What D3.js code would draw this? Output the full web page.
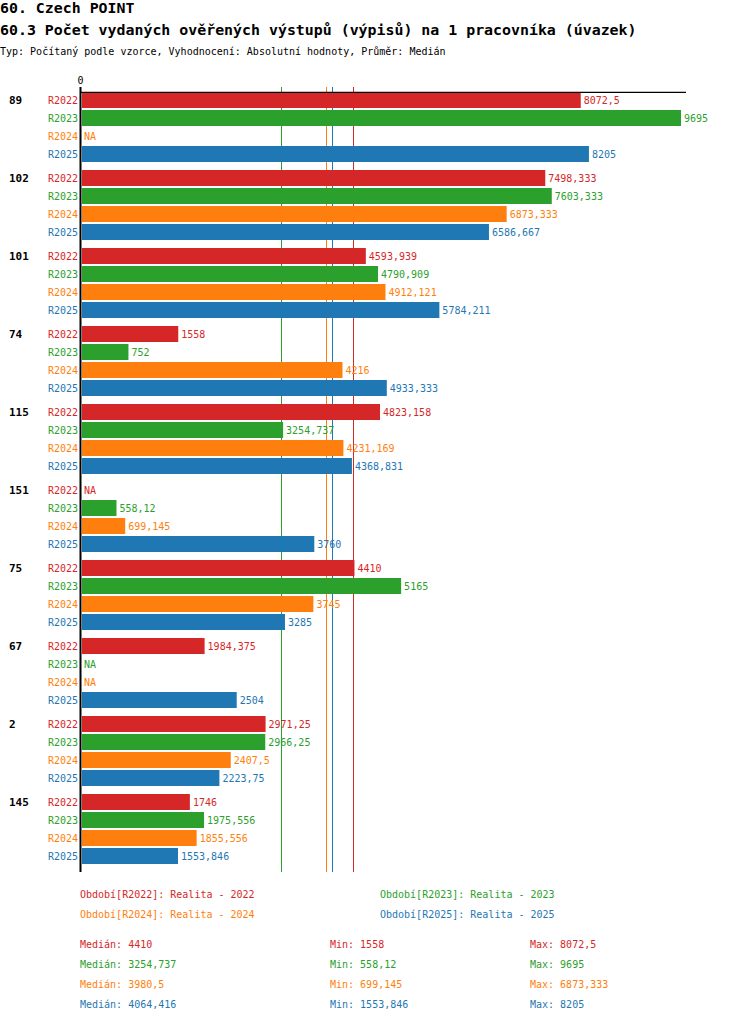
<!DOCTYPE html>
<html><head><meta charset="utf-8">
<script src="https://cdn.jsdelivr.net/npm/d3@7"></script>
<style>
html,body{margin:0;padding:0;background:#fff;}
svg{display:block;font-family:"DejaVu Sans Mono",monospace;}
</style></head>
<body>
<script>
const titleText = "60. Czech POINT";
const subtitleText = "60.3 Počet vydaných ověřených výstupů (výpisů) na 1 pracovníka (úvazek)";
const infoText = "Typ: Počítaný podle vzorce, Vyhodnocení: Absolutní hodnoty, Průměr: Medián";
const groups = ["89","102","101","74","115","151","75","67","2","145"];
const periods = ["R2022","R2023","R2024","R2025"];
const periodNames = ["Realita - 2022","Realita - 2023","Realita - 2024","Realita - 2025"];
const colors = ["#d62728","#2ca02c","#ff7f0e","#1f77b4"];
const r2022 = [8072.5, 7498.333, 4593.939, 1558, 4823.158, null, 4410, 1984.375, 2971.25, 1746];
const r2023 = [9695, 7603.333, 4790.909, 752, 3254.737, 558.12, 5165, null, 2966.25, 1975.556];
const r2024 = [null, 6873.333, 4912.121, 4216, 4231.169, 699.145, 3745, null, 2407.5, 1855.556];
const r2025 = [8205, 6586.667, 5784.211, 4933.333, 4368.831, 3760, 3285, 2504, 2223.75, 1553.846];
const series = [r2022, r2023, r2024, r2025];

const W = 750, H = 1022;
const svg = d3.select("body").append("svg").attr("width", W).attr("height", H);

const fmt = v => (Math.round(v * 1000) / 1000).toString().replace(".", ",");

svg.append("text").attr("x", 0).attr("y", 13).attr("font-size", 14.9).attr("font-weight", "bold").text(titleText);
svg.append("text").attr("x", 0).attr("y", 35).attr("font-size", 14.9).attr("font-weight", "bold").text(subtitleText);
svg.append("text").attr("x", 0).attr("y", 55).attr("font-size", 10).text(infoText);

const allVals = series.flat().filter(v => v != null);
const x = d3.scaleLinear().domain([0, d3.max(allVals)]).range([82, 681]);
const y = d3.scaleBand().domain(groups).range([92, 92 + 78 * groups.length]);
const yi = d3.scaleBand().domain(periods).range([0, 72]);
const barH = 16;
const plotTop = 87, plotBottom = 872;

// median lines
const medians = series.map(s => d3.median(s.filter(v => v != null)));
periods.forEach((p, i) => {
  const mx = Math.round(x(medians[i]) - 1.6) + 0.5;
  svg.append("line")
    .attr("x1", mx).attr("x2", mx)
    .attr("y1", plotTop).attr("y2", plotBottom)
    .attr("stroke", colors[i]).attr("stroke-width", 1)
    .attr("shape-rendering", "crispEdges");
});

// bars
groups.forEach((g, gi) => {
  const gy = y(g);
  svg.append("text").attr("x", 9).attr("y", gy + yi(periods[0]) + barH / 2).attr("dy", "0.35em")
    .attr("font-size", 11).attr("font-weight", "bold").text(g);
  periods.forEach((p, pi) => {
    const v = series[pi][gi];
    const by = gy + yi(p);
    svg.append("text").attr("x", 78).attr("y", by + barH / 2).attr("dy", "0.35em")
      .attr("text-anchor", "end").attr("font-size", 10).attr("fill", colors[pi]).text(p);
    if (v == null) {
      svg.append("text").attr("x", 84).attr("y", by + barH / 2).attr("dy", "0.35em")
        .attr("font-size", 10).attr("fill", colors[pi]).text("NA");
    } else {
      svg.append("rect").attr("x", x(0)).attr("y", by).attr("width", x(v) - x(0)).attr("height", barH)
        .attr("fill", colors[pi]);
      svg.append("text").attr("x", x(v) + 3).attr("y", by + barH / 2).attr("dy", "0.35em")
        .attr("font-size", 10).attr("fill", colors[pi]).text(fmt(v));
    }
  });
});

// axes
svg.append("line").attr("x1", 80.5).attr("x2", 80.5).attr("y1", plotTop).attr("y2", plotBottom)
  .attr("stroke", "#000").attr("stroke-width", 2);
svg.append("line").attr("x1", 80).attr("x2", 686).attr("y1", 92.3).attr("y2", 92.3)
  .attr("stroke", "#000").attr("stroke-width", 1.3);
svg.append("text").attr("x", 80.5).attr("y", 84).attr("text-anchor", "middle").attr("font-size", 10).text("0");

// legend
const legPos = [[80, 894], [380, 894], [80, 914], [380, 914]];
periods.forEach((p, i) => {
  svg.append("text").attr("x", legPos[i][0]).attr("y", legPos[i][1]).attr("dy", "0.35em")
    .attr("font-size", 10).attr("fill", colors[i]).text(`Období[${p}]: ${periodNames[i]}`);
});

// stats
periods.forEach((p, i) => {
  const vals = series[i].filter(v => v != null);
  const yy = 944 + i * 20;
  svg.append("text").attr("x", 80).attr("y", yy).attr("dy", "0.35em").attr("font-size", 10)
    .attr("fill", colors[i]).text(`Medián: ${fmt(medians[i])}`);
  svg.append("text").attr("x", 330).attr("y", yy).attr("dy", "0.35em").attr("font-size", 10)
    .attr("fill", colors[i]).text(`Min: ${fmt(d3.min(vals))}`);
  svg.append("text").attr("x", 530).attr("y", yy).attr("dy", "0.35em").attr("font-size", 10)
    .attr("fill", colors[i]).text(`Max: ${fmt(d3.max(vals))}`);
});
</script>
</body></html>
